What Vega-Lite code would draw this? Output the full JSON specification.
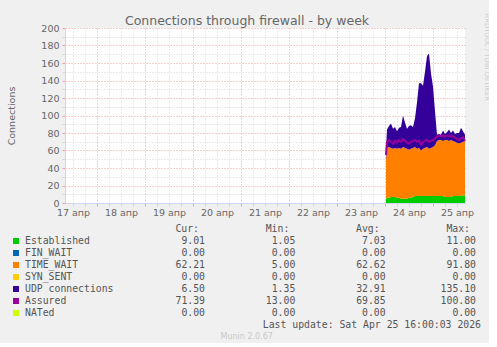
{
  "$schema": "https://vega.github.io/schema/vega-lite/v6.json",
  "background": "#f0f0f0",
  "padding": {"left": 6, "top": 13, "right": 0, "bottom": 0},
  "spacing": 6,
  "config": {
    "font": "DejaVu Sans",
    "view": {"stroke": null},
    "axis": {"labelColor": "#666666", "titleColor": "#666666", "labelFont": "DejaVu Sans", "titleFont": "DejaVu Sans", "titleFontWeight": "normal", "labelFontSize": 9.5, "titleFontSize": 9.5},
    "title": {"color": "#666666", "font": "DejaVu Sans", "fontWeight": "normal"},
    "text": {"font": "DejaVu Sans Mono", "fontSize": 9.8, "color": "#555555", "baseline": "middle"}
  },
  "vconcat": [
    {
      "width": 400,
      "height": 175,
      "title": {"text": "Connections through firewall - by week", "fontSize": 12.5, "anchor": "middle", "dx": -18, "offset": -14},
      "view": {"fill": "#ffffff", "stroke": null},
      "data": {"values": [
        {"t": "2026-04-24T00:30:00Z", "Established": 5, "TIME_WAIT": 44, "UDP connections": 11, "Assured": 55},
        {"t": "2026-04-24T01:00:00Z", "Established": 6, "TIME_WAIT": 57, "UDP connections": 21, "Assured": 70},
        {"t": "2026-04-24T02:00:00Z", "Established": 6, "TIME_WAIT": 58, "UDP connections": 24, "Assured": 72},
        {"t": "2026-04-24T03:00:00Z", "Established": 7, "TIME_WAIT": 56, "UDP connections": 28, "Assured": 70},
        {"t": "2026-04-24T04:00:00Z", "Established": 7, "TIME_WAIT": 55, "UDP connections": 23, "Assured": 68},
        {"t": "2026-04-24T05:00:00Z", "Established": 7, "TIME_WAIT": 56, "UDP connections": 24, "Assured": 71},
        {"t": "2026-04-24T06:00:00Z", "Established": 6, "TIME_WAIT": 56, "UDP connections": 20, "Assured": 69},
        {"t": "2026-04-24T07:00:00Z", "Established": 6, "TIME_WAIT": 57, "UDP connections": 23, "Assured": 72},
        {"t": "2026-04-24T08:00:00Z", "Established": 5, "TIME_WAIT": 57, "UDP connections": 25, "Assured": 70},
        {"t": "2026-04-24T09:00:00Z", "Established": 5, "TIME_WAIT": 59, "UDP connections": 36, "Assured": 73},
        {"t": "2026-04-24T10:00:00Z", "Established": 5, "TIME_WAIT": 58, "UDP connections": 29, "Assured": 71},
        {"t": "2026-04-24T11:00:00Z", "Established": 5, "TIME_WAIT": 57, "UDP connections": 23, "Assured": 69},
        {"t": "2026-04-24T12:00:00Z", "Established": 6, "TIME_WAIT": 55, "UDP connections": 27, "Assured": 68},
        {"t": "2026-04-24T13:00:00Z", "Established": 6, "TIME_WAIT": 56, "UDP connections": 27, "Assured": 70},
        {"t": "2026-04-24T14:00:00Z", "Established": 7, "TIME_WAIT": 56, "UDP connections": 24, "Assured": 71},
        {"t": "2026-04-24T15:00:00Z", "Established": 8, "TIME_WAIT": 56, "UDP connections": 33, "Assured": 72},
        {"t": "2026-04-24T16:00:00Z", "Established": 8, "TIME_WAIT": 54, "UDP connections": 53, "Assured": 70},
        {"t": "2026-04-24T17:00:00Z", "Established": 8, "TIME_WAIT": 55, "UDP connections": 74, "Assured": 71},
        {"t": "2026-04-24T18:00:00Z", "Established": 8, "TIME_WAIT": 52, "UDP connections": 77, "Assured": 67},
        {"t": "2026-04-24T19:00:00Z", "Established": 8, "TIME_WAIT": 54, "UDP connections": 72, "Assured": 70},
        {"t": "2026-04-24T20:00:00Z", "Established": 8, "TIME_WAIT": 55, "UDP connections": 87, "Assured": 71},
        {"t": "2026-04-24T21:00:00Z", "Established": 8, "TIME_WAIT": 56, "UDP connections": 104, "Assured": 72},
        {"t": "2026-04-24T22:00:00Z", "Established": 8, "TIME_WAIT": 54, "UDP connections": 109, "Assured": 70},
        {"t": "2026-04-24T23:00:00Z", "Established": 8, "TIME_WAIT": 55, "UDP connections": 85, "Assured": 71},
        {"t": "2026-04-25T00:00:00Z", "Established": 8, "TIME_WAIT": 56, "UDP connections": 69, "Assured": 72},
        {"t": "2026-04-25T01:00:00Z", "Established": 8, "TIME_WAIT": 58, "UDP connections": 39, "Assured": 74},
        {"t": "2026-04-25T02:00:00Z", "Established": 8, "TIME_WAIT": 63, "UDP connections": 7, "Assured": 76},
        {"t": "2026-04-25T03:00:00Z", "Established": 8, "TIME_WAIT": 64, "UDP connections": 7, "Assured": 77},
        {"t": "2026-04-25T04:00:00Z", "Established": 8, "TIME_WAIT": 64, "UDP connections": 6, "Assured": 76},
        {"t": "2026-04-25T05:00:00Z", "Established": 8, "TIME_WAIT": 63, "UDP connections": 12, "Assured": 77},
        {"t": "2026-04-25T06:00:00Z", "Established": 7, "TIME_WAIT": 65, "UDP connections": 7, "Assured": 76},
        {"t": "2026-04-25T07:00:00Z", "Established": 7, "TIME_WAIT": 65, "UDP connections": 9, "Assured": 77},
        {"t": "2026-04-25T08:00:00Z", "Established": 7, "TIME_WAIT": 64, "UDP connections": 13, "Assured": 76},
        {"t": "2026-04-25T09:00:00Z", "Established": 7, "TIME_WAIT": 65, "UDP connections": 8, "Assured": 77},
        {"t": "2026-04-25T10:00:00Z", "Established": 8, "TIME_WAIT": 63, "UDP connections": 12, "Assured": 76},
        {"t": "2026-04-25T11:00:00Z", "Established": 8, "TIME_WAIT": 62, "UDP connections": 9, "Assured": 75},
        {"t": "2026-04-25T12:00:00Z", "Established": 8, "TIME_WAIT": 61, "UDP connections": 11, "Assured": 73},
        {"t": "2026-04-25T13:00:00Z", "Established": 8, "TIME_WAIT": 60, "UDP connections": 12, "Assured": 72},
        {"t": "2026-04-25T14:00:00Z", "Established": 8, "TIME_WAIT": 61, "UDP connections": 17, "Assured": 74},
        {"t": "2026-04-25T15:00:00Z", "Established": 9, "TIME_WAIT": 61, "UDP connections": 12, "Assured": 75},
        {"t": "2026-04-25T16:00:00Z", "Established": 9, "TIME_WAIT": 62, "UDP connections": 7, "Assured": 71}
      ]},
      "layer": [
        {
          "transform": [
            {"fold": ["Established", "TIME_WAIT", "UDP connections"], "as": ["series", "v"]}
          ],
          "mark": {"type": "area", "opacity": 1, "interpolate": "linear"},
          "encoding": {
            "x": {
              "field": "t", "type": "temporal",
              "scale": {"type": "utc", "domain": [1776412800000, 1777132800000]},
              "axis": {
                "title": null,
                "tickCount": 33,
                "format": "%d апр",
                "labelExpr": "((datum.value / 3600000) % 24) == 12 ? datum.label : ''",
                "labelOverlap": false, "labelFlush": false, "labelPadding": 1,
                "grid": true,
                "gridColor": {"condition": {"test": "((datum.value / 3600000) % 24) == 0", "value": "#eaa0a0"}, "value": "#d4d4d4"},
                "gridDash": [1, 2],
                "tickSize": 3,
                "tickColor": {"condition": {"test": "((datum.value / 3600000) % 24) == 0", "value": "#eaa0a0"}, "value": "#d4d4d4"},
                "domainColor": "#cfd6f8"
              }
            },
            "y": {
              "field": "v", "type": "quantitative", "stack": "zero",
              "scale": {"domain": [0, 200], "nice": false},
              "axis": {
                "title": "Connections", "titlePadding": 24,
                "values": [0, 10, 20, 30, 40, 50, 60, 70, 80, 90, 100, 110, 120, 130, 140, 150, 160, 170, 180, 190, 200],
                "labelExpr": "datum.value % 20 == 0 ? datum.label : ''",
                "labelOverlap": false, "labelFlush": false, "labelPadding": 3,
                "grid": true,
                "gridColor": {"condition": {"test": "datum.value % 20 == 0", "value": "#eaa0a0"}, "value": "#d4d4d4"},
                "gridDash": [1, 2],
                "tickSize": 3,
                "tickColor": {"condition": {"test": "datum.value % 20 == 0", "value": "#eaa0a0"}, "value": "#d4d4d4"},
                "domainColor": "#cfd6f8"
              }
            },
            "color": {
              "field": "series", "type": "nominal",
              "scale": {"domain": ["Established", "FIN_WAIT", "TIME_WAIT", "SYN_SENT", "UDP connections", "Assured", "NATed"], "range": ["#00cc00", "#0066b3", "#ff8000", "#ffcc00", "#330099", "#990099", "#ccff00"]},
              "legend": null
            },
            "order": {"field": "series", "type": "ordinal", "sort": "ascending"}
          }
        },
        {
          "mark": {"type": "line", "color": "#990099", "strokeWidth": 2, "interpolate": "linear"},
          "encoding": {
            "x": {"field": "t", "type": "temporal"},
            "y": {
              "field": "Assured", "type": "quantitative",
              "scale": {"domain": [0, 200], "nice": false},
              "axis": {"orient": "right", "labels": false, "ticks": false, "domain": false, "grid": false, "title": "RRDTOOL / TOBI OETIKER", "titleColor": "#cccccc", "titleFontSize": 6.8, "titleAngle": 90, "titleAlign": "left", "titleBaseline": "middle", "titleAnchor": "end", "titleX": 21, "titleY": -15}
            }
          }
        }
      ],
      "resolve": {"axis": {"y": "independent"}}
    },
    {
      "width": 400,
      "height": 120,
      "data": {"values": [
        {"series": "Established", "Cur": 9.01, "Min": 1.05, "Avg": 7.03, "Max": 11.00},
        {"series": "FIN_WAIT", "Cur": 0, "Min": 0, "Avg": 0, "Max": 0},
        {"series": "TIME_WAIT", "Cur": 62.21, "Min": 5.00, "Avg": 62.62, "Max": 91.80},
        {"series": "SYN_SENT", "Cur": 0, "Min": 0, "Avg": 0, "Max": 0},
        {"series": "UDP connections", "Cur": 6.50, "Min": 1.35, "Avg": 32.91, "Max": 135.10},
        {"series": "Assured", "Cur": 71.39, "Min": 13.00, "Avg": 69.85, "Max": 100.80},
        {"series": "NATed", "Cur": 0, "Min": 0, "Avg": 0, "Max": 0}
      ]},
      "encoding": {
        "y": {"field": "series", "type": "nominal", "scale": {"type": "point", "domain": ["header", "Established", "FIN_WAIT", "TIME_WAIT", "SYN_SENT", "UDP connections", "Assured", "NATed", "update", "munin"], "padding": 0.5}, "axis": null}
      },
      "layer": [
        {
          "mark": {"type": "square", "size": 36, "opacity": 1, "filled": true},
          "encoding": {
            "x": {"datum": "swatch", "type": "nominal", "scale": {"type": "point", "domain": ["swatch", "gap", "Cur", "Min", "Avg", "Max"], "range": [-49, 402.7], "padding": 0}, "axis": null},
            "color": {
              "field": "series", "type": "nominal",
              "scale": {"domain": ["Established", "FIN_WAIT", "TIME_WAIT", "SYN_SENT", "UDP connections", "Assured", "NATed"], "range": ["#00cc00", "#0066b3", "#ff8000", "#ffcc00", "#330099", "#990099", "#ccff00"]},
              "legend": null
            }
          }
        },
        {
          "mark": {"type": "text", "align": "left", "dx": 9},
          "encoding": {
            "x": {"datum": "swatch", "type": "nominal"},
            "text": {"field": "series"}
          }
        },
        {
          "transform": [{"fold": ["Cur", "Min", "Avg", "Max"], "as": ["key", "val"]}],
          "mark": {"type": "text", "align": "right", "dx": 8.3},
          "encoding": {
            "x": {"field": "key", "type": "nominal"},
            "text": {"field": "val", "type": "quantitative", "format": ".2f"}
          }
        },
        {
          "data": {"values": [{"key": "Cur", "label": "Cur:"}, {"key": "Min", "label": "Min:"}, {"key": "Avg", "label": "Avg:"}, {"key": "Max", "label": "Max:"}]},
          "mark": {"type": "text", "align": "right", "dx": 2.3},
          "encoding": {
            "x": {"field": "key", "type": "nominal"},
            "y": {"datum": "header", "type": "nominal"},
            "text": {"field": "label"}
          }
        },
        {
          "data": {"values": [{"label": "Last update: Sat Apr 25 16:00:03 2026"}]},
          "mark": {"type": "text", "align": "right", "dx": 13.3},
          "encoding": {
            "x": {"datum": "Max", "type": "nominal"},
            "y": {"datum": "update", "type": "nominal"},
            "text": {"field": "label"}
          }
        },
        {
          "data": {"values": [{"label": "Munin 2.0.67"}]},
          "mark": {"type": "text", "align": "center", "dx": -40.3, "font": "DejaVu Sans", "fontSize": 8, "color": "#c8c8c8"},
          "encoding": {
            "x": {"datum": "Min", "type": "nominal"},
            "y": {"datum": "munin", "type": "nominal"},
            "text": {"field": "label"}
          }
        }
      ]
    }
  ]
}
